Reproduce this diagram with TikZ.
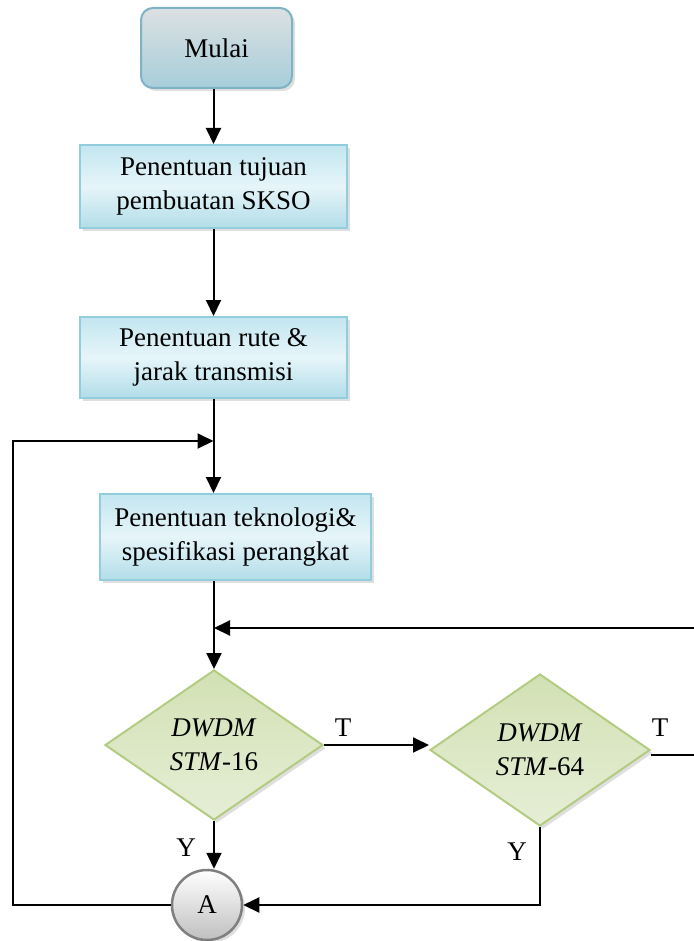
\documentclass[tikz,border=0pt]{standalone}
\usepackage{fontspec}
\setmainfont{Liberation Serif}
\usetikzlibrary{shapes.geometric,arrows.meta,shadows}
\definecolor{mulaiB}{HTML}{7FB2C4}
\definecolor{mulaiT}{HTML}{DCE0E2}
\definecolor{mulaiBot}{HTML}{A6CEDA}
\definecolor{boxB}{HTML}{92CDDD}
\definecolor{boxT}{HTML}{C3E6F0}
\definecolor{boxM}{HTML}{E6F5F9}
\definecolor{boxBot}{HTML}{B2DDE9}
\definecolor{decB}{HTML}{B3CC82}
\definecolor{decT}{HTML}{D2E1B4}
\definecolor{decBot}{HTML}{E6EED6}
\definecolor{circB}{HTML}{7F7F7F}
\tikzset{
  lbl/.style={font=\fontsize{27}{34}\selectfont},
  shad/.style={drop shadow={opacity=0.25, shadow xshift=3pt, shadow yshift=-3pt}},
  startbox/.style={rectangle, rounded corners=12pt, draw=mulaiB, line width=2pt,
    top color=mulaiT, bottom color=mulaiBot, lbl, align=center, inner sep=0pt, shad},
  procbox/.style={rectangle, draw=boxB, line width=2pt,
    top color=boxT, bottom color=boxBot, middle color=boxM, lbl, align=center, inner sep=0pt, shad},
  decbox/.style={diamond, draw=decB, line width=2pt,
    top color=decT, bottom color=decBot, lbl, align=center, inner sep=0pt, shad},
  connbox/.style={circle, draw=circB, line width=2.5pt,
    top color=white, bottom color=black!25, lbl, inner sep=0pt, minimum size=70pt, shad},
  arr/.style={-{Triangle[length=16pt,width=15pt]}, line width=2pt, black},
}
\begin{document}
\begin{tikzpicture}[x=1pt,y=-1pt]
\useasboundingbox (0,0) rectangle (693,941);
\fill[white] (0,0) rectangle (693,941);

\node[startbox, minimum width=151pt, minimum height=80pt] (mulai) at (216.5,48) {Mulai};
\node[procbox, minimum width=267pt, minimum height=83pt] (b2) at (213.5,186.5) {Penentuan tujuan\\pembuatan SKSO};
\node[procbox, minimum width=267pt, minimum height=81pt] (b3) at (213.5,357.5) {Penentuan rute \&\\jarak transmisi};
\node[procbox, minimum width=271pt, minimum height=86pt] (b4) at (235.5,537) {Penentuan teknologi\&\\spesifikasi perangkat};
\node[decbox, minimum width=218pt, minimum height=150pt] (d1) at (214,745) {\textit{DWDM}\\\textit{STM}-16};
\node[decbox, minimum width=220pt, minimum height=152pt] (d2) at (540,750) {\textit{DWDM}\\\textit{STM}-64};
\node[connbox] (A) at (207,905) {A};

\coordinate (loopL) at (13,441);
\coordinate (j1) at (213.5,441);
\coordinate (rr) at (720,628);
\coordinate (j2) at (214,628);

\draw[arr] (mulai.south -| b2.north) -- (b2.north);
\draw[arr] (b2.south) -- (b3.north);
\draw[arr] (b3.south) -- (b3.south |- b4.north);
\draw[arr] (b4.south -| d1.north) -- (d1.north);
\draw[arr] (A.west) -| (loopL) -- (j1);
\draw[arr] ([yshift=-5pt]d2.east) -| (rr) -- (j2);
\draw[arr] (d1.east) -- (d1.east -| d2.west);
\draw[arr] (d1.south) -- (A.north -| d1.south);
\draw[arr] (d2.south) |- (A.east);

\node[lbl] (t1) at (343,728) {T};
\node[lbl] (t2) at (660,728) {T};
\node[lbl] (y1) at (186,848) {Y};
\node[lbl] (y2) at (517,852) {Y};
\end{tikzpicture}
\end{document}
